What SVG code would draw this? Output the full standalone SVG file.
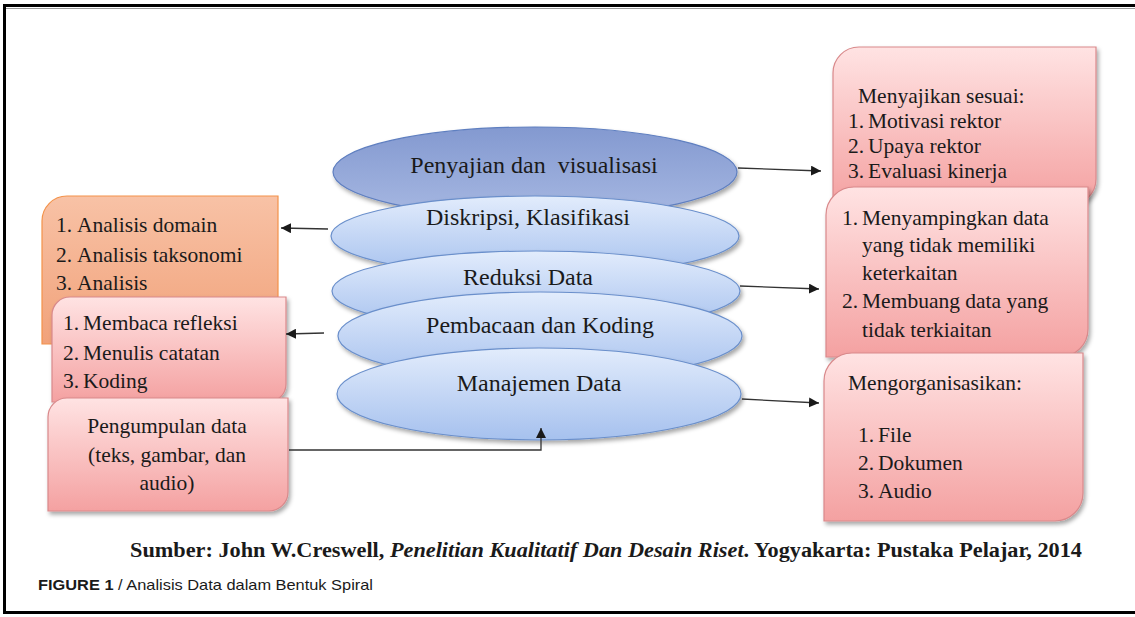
<svg xmlns="http://www.w3.org/2000/svg" width="1135" height="617" viewBox="0 0 1135 617">
<defs>
<linearGradient id="gPink" x1="0" y1="0" x2="0" y2="1">
<stop offset="0" stop-color="#ffe3e3"/><stop offset="1" stop-color="#f4a1a1"/>
</linearGradient>
<linearGradient id="gOrange" x1="0" y1="0" x2="0" y2="1">
<stop offset="0" stop-color="#f8c2a6"/><stop offset="1" stop-color="#f1a27a"/>
</linearGradient>
<linearGradient id="gBlue" x1="0" y1="0" x2="0" y2="1">
<stop offset="0" stop-color="#e2ecfc"/><stop offset="1" stop-color="#a6c1ee"/>
</linearGradient>
<linearGradient id="gDark" x1="0" y1="0" x2="0" y2="1">
<stop offset="0" stop-color="#8399d0"/><stop offset="1" stop-color="#a7b8e2"/>
</linearGradient>
<filter id="sh" x="-10%" y="-10%" width="125%" height="130%">
<feDropShadow dx="2" dy="3" stdDeviation="2" flood-color="#000" flood-opacity="0.35"/>
</filter>
<marker id="ah" viewBox="0 0 10 10" refX="10" refY="5" markerWidth="10" markerHeight="10" markerUnits="userSpaceOnUse" orient="auto">
<path d="M0,0 L10,5 L0,10 Z" fill="#1a1a1a"/>
</marker>
<style>
.t{font-family:"Liberation Serif","Times New Roman",serif;font-size:21.5px;fill:#1a1a1a}
.te{font-family:"Liberation Serif","Times New Roman",serif;font-size:24px;fill:#1a1a1a;text-anchor:middle}
.pink{fill:url(#gPink);stroke:#d9898b;stroke-width:1.2;filter:url(#sh)}
.orange{fill:url(#gOrange);stroke:#f3924a;stroke-width:1.2}
.ell{fill:url(#gBlue);stroke:#6a8fcb;stroke-width:1.2;filter:url(#sh)}
.dark{fill:url(#gDark);stroke:#5f7fc0;stroke-width:1.2;filter:url(#sh)}
.c{fill:none;stroke:#333;stroke-width:1.3}
</style>
</defs>
<rect width="1135" height="617" fill="#fff"/>
<path d="M1135,5.5 H4.5 V612.5 H1135" fill="none" stroke="#000" stroke-width="3"/>
<line x1="6" y1="8.5" x2="1135" y2="8.5" stroke="#999" stroke-width="1"/>

<!-- right boxes -->
<g id="r1">
<path class="pink" d="M833,73 A26,26 0 0 1 859,47 H1096 V179 A26,26 0 0 1 1070,205 H833 Z"/>
<text class="t" x="858" y="103">Menyajikan sesuai:</text>
<text class="t"><tspan x="848" y="128">1.</tspan><tspan x="868" y="128">Motivasi rektor</tspan><tspan x="848" y="153">2.</tspan><tspan x="868" y="153">Upaya rektor</tspan><tspan x="848" y="178">3.</tspan><tspan x="868" y="178">Evaluasi kinerja</tspan></text>
</g>
<g id="r2">
<path class="pink" d="M826,215 A28,28 0 0 1 854,187 H1088 V329 A28,28 0 0 1 1060,357 H826 Z"/>
<text class="t"><tspan x="842" y="225">1.</tspan><tspan x="862" y="225">Menyampingkan data</tspan><tspan x="862" y="252">yang tidak memiliki</tspan><tspan x="862" y="280">keterkaitan</tspan><tspan x="842" y="308">2.</tspan><tspan x="862" y="308">Membuang data yang</tspan><tspan x="862" y="337">tidak terkiaitan</tspan></text>
</g>
<g id="r3">
<path class="pink" d="M824,381 A28,28 0 0 1 852,353 H1083 V493 A28,28 0 0 1 1055,521 H824 Z"/>
<text class="t" x="848" y="390">Mengorganisasikan:</text>
<text class="t"><tspan x="858" y="442">1.</tspan><tspan x="878" y="442">File</tspan><tspan x="858" y="470">2.</tspan><tspan x="878" y="470">Dokumen</tspan><tspan x="858" y="498">3.</tspan><tspan x="878" y="498">Audio</tspan></text>
</g>

<!-- left boxes -->
<g id="l1">
<path class="orange" d="M42,221 A25,25 0 0 1 67,196 H278 V319 A25,25 0 0 1 253,344 H42 Z"/>
<text class="t"><tspan x="56" y="232">1.</tspan><tspan x="77" y="232">Analisis domain</tspan><tspan x="56" y="262">2.</tspan><tspan x="77" y="262">Analisis taksonomi</tspan><tspan x="56" y="290">3.</tspan><tspan x="77" y="290">Analisis</tspan></text>
</g>
<g id="l2">
<path class="pink" d="M52,315 A18,18 0 0 1 70,297 H286 V384 A18,18 0 0 1 268,402 H52 Z"/>
<text class="t"><tspan x="63" y="330">1.</tspan><tspan x="83" y="330">Membaca refleksi</tspan><tspan x="63" y="360">2.</tspan><tspan x="83" y="360">Menulis catatan</tspan><tspan x="63" y="388">3.</tspan><tspan x="83" y="388">Koding</tspan></text>
</g>
<g id="l3">
<path class="pink" d="M48,417 A19,19 0 0 1 67,398 H288 V492 A19,19 0 0 1 269,511 H48 Z"/>
<text class="t" text-anchor="middle"><tspan x="167" y="433">Pengumpulan data</tspan><tspan x="167" y="462">(teks, gambar, dan</tspan><tspan x="167" y="490">audio)</tspan></text>
</g>

<!-- ellipses -->
<g id="e1">
<ellipse class="dark" cx="535" cy="172" rx="202" ry="45"/>
<text class="te" x="534" y="173" xml:space="preserve">Penyajian dan  visualisasi</text>
</g>
<g id="e2">
<ellipse class="ell" cx="535" cy="236" rx="204" ry="40"/>
<text class="te" x="528" y="225">Diskripsi, Klasifikasi</text>
</g>
<g id="e3">
<ellipse class="ell" cx="536" cy="291" rx="204" ry="40"/>
<text class="te" x="528" y="285">Reduksi Data</text>
</g>
<g id="e4">
<ellipse class="ell" cx="540" cy="336" rx="202" ry="44"/>
<text class="te" x="540" y="333">Pembacaan dan Koding</text>
</g>
<g id="e5">
<ellipse class="ell" cx="539" cy="394" rx="202" ry="46"/>
<text class="te" x="539" y="391">Manajemen Data</text>
</g>

<!-- connectors -->
<g id="connectors">
<line class="c" x1="738" y1="168" x2="821" y2="171" marker-end="url(#ah)"/>
<line class="c" x1="328" y1="229" x2="281" y2="228" marker-end="url(#ah)"/>
<line class="c" x1="740" y1="286" x2="819" y2="289" marker-end="url(#ah)"/>
<line class="c" x1="324" y1="333" x2="286" y2="334" marker-end="url(#ah)"/>
<line class="c" x1="742" y1="399" x2="819" y2="403" marker-end="url(#ah)"/>
<path class="c" d="M289,450 H541 V428" marker-end="url(#ah)"/>
</g>

<text x="130" y="557" textLength="952" lengthAdjust="spacingAndGlyphs" style="font-family:'Liberation Serif','Times New Roman',serif;font-size:20px;font-weight:bold;fill:#1a1a1a">Sumber: John W.Creswell, <tspan font-style="italic">Penelitian Kualitatif Dan Desain Riset</tspan>. Yogyakarta: Pustaka Pelajar, 2014</text>
<text x="38" y="590" textLength="335" lengthAdjust="spacingAndGlyphs" style="font-family:'Liberation Sans',Arial,sans-serif;font-size:14.5px;fill:#1a1a1a"><tspan font-weight="bold">FIGURE 1</tspan> / Analisis Data dalam Bentuk Spiral</text>
</svg>
